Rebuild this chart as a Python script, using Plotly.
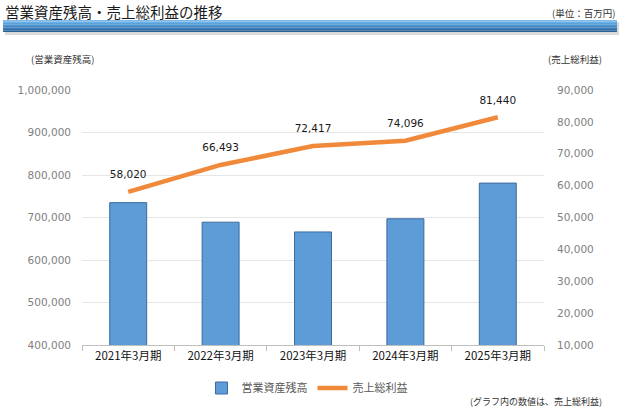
import plotly.graph_objects as go

categories = ["2021年3月期", "2022年3月期", "2023年3月期", "2024年3月期", "2025年3月期"]
operating_assets = [735000, 689000, 666000, 697000, 781000]
gross_profit = [58020, 66493, 72417, 74096, 81440]
gross_profit_labels = ["58,020", "66,493", "72,417", "74,096", "81,440"]

W, H = 620, 407
L, R, T, B = 82, 76, 90, 62
PW, PH = W - L - R, H - T - B


def px(x):
    return (x - L) / PW


def py(y):
    return (H - B - y) / PH


fig = go.Figure()

fig.add_trace(go.Bar(
    x=categories, y=operating_assets, name="営業資産残高",
    marker=dict(color="#5E9CD8", line=dict(color="#3A6B9E", width=1)),
    width=0.4, yaxis="y",
))

fig.add_trace(go.Scatter(
    x=categories, y=gross_profit, name="売上総利益", yaxis="y2",
    mode="lines+markers+text",
    line=dict(color="#F08A3A", width=4.5),
    marker=dict(size=16, color="rgba(0,0,0,0)"),
    text=gross_profit_labels, textposition="top center",
    textfont=dict(family="DejaVu Sans", size=10.5, color="#1a1a1a"),
    cliponaxis=False,
))

tickfont = dict(family="DejaVu Sans", size=10.5, color="#808080")

fig.update_layout(
    width=W, height=H,
    margin=dict(l=L, r=R, t=T, b=B, autoexpand=False),
    paper_bgcolor="white", plot_bgcolor="white",
    showlegend=True,
    legend=dict(orientation="h", x=px(307), y=py(388), xanchor="center", yanchor="middle",
                font=dict(family="Noto Sans CJK JP", size=11, color="#595959"),
                itemwidth=30, traceorder="normal", tracegroupgap=0),
    xaxis=dict(
        type="category", showgrid=False, showline=True, linecolor="#BFBFBF", linewidth=1,
        ticks="outside", tickson="boundaries", ticklen=5, tickcolor="#BFBFBF",
        tickfont=dict(family="Noto Sans CJK JP", size=11.5, color="#111111"),
        range=[-0.5, 4.5],
    ),
    yaxis=dict(
        range=[400000, 1000000], dtick=100000, tickformat=",d",
        showgrid=True, gridcolor="#E6E6E6", gridwidth=1, zeroline=False,
        showline=False, ticks="", tickfont=tickfont, ticklabelstandoff=10,
    ),
    yaxis2=dict(
        range=[10000, 90000], dtick=10000, tickformat=",d", overlaying="y", side="right",
        showgrid=False, zeroline=False, showline=False, ticks="", tickfont=tickfont,
        ticklabelstandoff=12,
    ),
    bargap=0.6,
)

# Header title and unit
fig.add_annotation(text="営業資産残高・売上総利益の推移", xref="paper", yref="paper",
                   x=px(3), y=py(11), xanchor="left", yanchor="middle", showarrow=False,
                   font=dict(family="Noto Sans CJK JP", size=14.5, color="#1a1a1a"))
fig.add_annotation(text="(単位：百万円)", xref="paper", yref="paper",
                   x=px(617), y=py(13), xanchor="right", yanchor="middle", showarrow=False,
                   font=dict(family="Noto Sans CJK JP", size=9.5, color="#333333"))

# Gradient header bar
shades = ["#7DB9E8", "#6AAEE3", "#5AA2DC", "#4E96D3", "#4689C7", "#3D7CB9", "#336FA9", "#2C6399"]
top, bottom = 20, 32
step = (bottom - top) / len(shades)
fig.add_shape(type="rect", xref="paper", yref="paper", x0=px(5), x1=px(619), y0=py(bottom + 3), y1=py(top + 2),
              fillcolor="rgba(150,150,150,0.35)", line=dict(width=0), layer="below")
for i, c in enumerate(shades):
    fig.add_shape(type="rect", xref="paper", yref="paper",
                  x0=px(3), x1=px(617), y0=py(top + (i + 1) * step), y1=py(top + i * step),
                  fillcolor=c, line=dict(width=0), layer="above")

# Axis titles
fig.add_annotation(text="(営業資産残高)", xref="paper", yref="paper",
                   x=px(29), y=py(59), xanchor="left", yanchor="middle", showarrow=False,
                   font=dict(family="Noto Sans CJK JP", size=9.5, color="#333333"))
fig.add_annotation(text="(売上総利益)", xref="paper", yref="paper",
                   x=px(604), y=py(59), xanchor="right", yanchor="middle", showarrow=False,
                   font=dict(family="Noto Sans CJK JP", size=9.5, color="#333333"))

# Footnote
fig.add_annotation(text="(グラフ内の数値は、売上総利益)", xref="paper", yref="paper",
                   x=px(604), y=py(401), xanchor="right", yanchor="middle", showarrow=False,
                   font=dict(family="Noto Sans CJK JP", size=9, color="#333333"))

fig.write_html("out.html", config={"displayModeBar": False},
               post_script="document.body.style.margin='0px';document.body.style.overflow='hidden';")
